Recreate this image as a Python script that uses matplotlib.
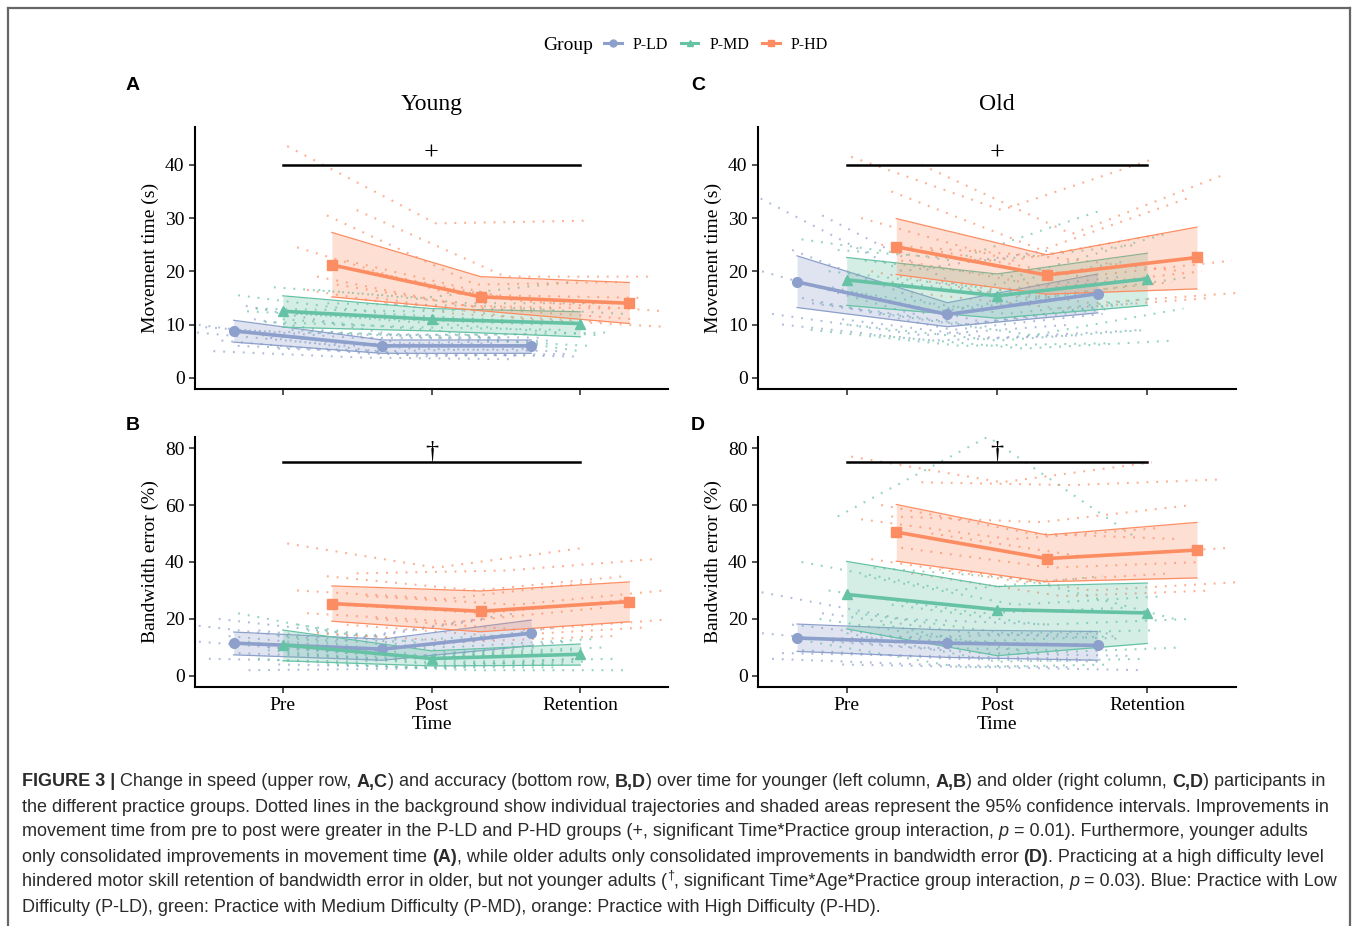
import numpy as np
import matplotlib.pyplot as plt
from matplotlib.lines import Line2D

W, H = 1358, 926

groups = ["P-LD", "P-MD", "P-HD"]
times = ["Pre", "Post", "Retention"]
colors = ["#8DA0CB", "#66C2A5", "#FC8D62"]
markers = ["o", "^", "s"]

# group means and 95% CI (rows: P-LD, P-MD, P-HD; cols: Pre, Post, Retention)
young_mt_mean = [[8.8, 6.0, 6.0], [12.5, 11.0, 10.2], [21.2, 15.2, 14.0]]
young_mt_lo = [[6.7, 4.6, 4.6], [9.5, 8.8, 7.7], [15.2, 12.6, 10.2]]
young_mt_hi = [[10.8, 7.1, 7.1], [15.4, 13.0, 12.4], [27.3, 19.0, 17.9]]

old_mt_mean = [[18.0, 11.9, 15.8], [18.4, 15.4, 18.6], [24.6, 19.3, 22.6]]
old_mt_lo = [[13.2, 9.6, 12.2], [13.6, 11.2, 13.6], [19.4, 15.7, 16.7]]
old_mt_hi = [[22.9, 14.1, 19.5], [22.6, 19.5, 23.4], [29.9, 23.1, 28.3]]

young_be_mean = [[11.5, 9.4, 15.0], [10.9, 6.1, 7.6], [25.4, 22.7, 26.1]]
young_be_lo = [[7.4, 5.5, 10.6], [5.3, 3.5, 3.8], [19.2, 15.5, 19.0]]
young_be_hi = [[15.4, 12.9, 19.6], [16.1, 8.8, 11.2], [31.6, 29.8, 33.0]]

old_be_mean = [[13.3, 11.5, 10.7], [28.6, 23.3, 22.1], [50.5, 41.2, 44.2]]
old_be_lo = [[8.6, 6.5, 5.5], [16.5, 7.1, 11.4], [40.3, 33.1, 34.4]]
old_be_hi = [[18.2, 16.1, 15.6], [40.2, 31.4, 32.6], [60.2, 49.5, 53.9]]

# individual trajectories [Pre, Post, Retention]
young_mt_ind_ld = [[10.2, 6.5, 6.0], [13.5, 8.0, 7.5], [9.5, 7.5, 7.5], [8.0, 5.5, 5.0],
                   [7.0, 4.5, 4.2], [5.5, 4.5, 4.0], [6.0, 5.0, 5.5], [8.5, 6.0, 6.5],
                   [11.0, 6.5, 7.0], [5.0, 3.8, 3.5], [7.5, 4.0, 4.5], [9.0, 8.0, 8.2]]
young_mt_ind_md = [[15.5, 12.0, 10.5], [12.0, 10.0, 8.0], [10.5, 9.5, 9.0], [14.0, 13.5, 12.0],
                   [9.0, 7.5, 6.0], [13.0, 12.5, 13.0], [16.5, 14.0, 14.0], [11.0, 9.0, 5.0],
                   [12.5, 11.0, 10.0], [8.5, 8.0, 8.5], [17.0, 15.0, 18.0]]
young_mt_ind_hd = [[43.5, 29.0, 29.5], [31.5, 19.0, 19.0], [30.5, 17.5, 18.0], [24.5, 16.0, 14.0],
                   [20.0, 14.5, 12.5], [17.5, 13.0, 11.0], [16.5, 12.0, 10.5], [15.0, 11.0, 9.5],
                   [22.0, 15.5, 15.0], [19.0, 13.5, 13.0]]

old_mt_ind_ld = [[34.5, 20.0, 24.0], [30.5, 16.0, 19.0], [24.0, 13.0, 16.0], [20.0, 12.0, 15.0],
                 [17.0, 10.5, 14.0], [15.0, 9.0, 12.0], [12.0, 8.0, 10.0], [11.0, 7.5, 9.0],
                 [14.0, 10.0, 13.0], [10.0, 7.0, 8.0]]
old_mt_ind_md = [[26.0, 22.0, 31.5], [22.0, 19.0, 27.0], [20.0, 17.0, 22.0], [18.0, 15.0, 19.0],
                 [16.0, 12.0, 15.0], [14.0, 10.0, 14.0], [12.0, 8.0, 13.0], [10.0, 7.0, 9.0],
                 [9.0, 6.0, 6.5], [8.0, 5.5, 7.0], [24.0, 22.0, 25.0]]
old_mt_ind_hd = [[41.5, 31.5, 41.0], [40.0, 27.0, 38.0], [35.0, 24.0, 34.0], [30.0, 22.0, 27.0],
                 [24.0, 19.0, 22.0], [22.0, 17.0, 20.0], [20.0, 15.0, 18.0], [18.0, 14.0, 16.0],
                 [16.0, 13.0, 15.0], [25.0, 23.0, 20.0]]

young_be_ind_ld = [[18.0, 12.0, 20.0], [16.0, 10.0, 17.0], [14.0, 9.0, 15.0], [12.0, 8.0, 13.0],
                   [10.0, 7.0, 12.0], [8.0, 6.0, 10.0], [6.0, 5.0, 8.0], [4.0, 3.0, 6.0],
                   [2.0, 2.5, 4.0], [20.0, 14.0, 22.0]]
young_be_ind_md = [[22.0, 12.0, 15.0], [16.0, 8.0, 10.0], [14.0, 7.0, 9.0], [12.0, 6.0, 8.0],
                   [10.0, 5.0, 6.0], [8.0, 4.0, 5.0], [6.0, 3.0, 3.0], [4.0, 2.0, 2.0],
                   [18.0, 10.0, 13.0], [9.0, 5.0, 4.0]]
young_be_ind_hd = [[46.5, 38.0, 45.0], [36.0, 37.0, 41.0], [35.0, 30.0, 35.0], [30.0, 27.0, 33.0],
                   [28.0, 25.0, 30.0], [25.0, 22.0, 27.0], [22.0, 19.0, 24.0], [20.0, 16.0, 20.0],
                   [18.0, 14.0, 17.0], [15.0, 12.0, 14.0]]

old_be_ind_ld = [[30.0, 20.0, 18.0], [22.0, 15.0, 13.0], [18.0, 12.0, 11.0], [15.0, 10.0, 9.0],
                 [12.0, 8.0, 7.0], [9.0, 6.0, 5.0], [6.0, 4.0, 3.0], [4.0, 3.0, 2.0],
                 [13.0, 14.0, 15.0], [8.0, 7.0, 6.0]]
old_be_ind_md = [[40.0, 30.0, 35.0], [35.0, 25.0, 28.0], [30.0, 22.0, 24.0], [25.0, 18.0, 20.0],
                 [22.0, 15.0, 16.0], [20.0, 12.0, 14.0], [18.0, 8.0, 10.0], [15.0, 5.0, 6.0],
                 [12.0, 3.0, 4.0], [38.0, 34.0, 20.0], [56.0, 84.0, 48.0]]
old_be_ind_hd = [[77.0, 68.0, 75.0], [68.0, 67.0, 69.0], [56.0, 54.0, 60.0], [55.0, 48.0, 52.0],
                 [50.0, 42.0, 45.0], [45.0, 38.0, 40.0], [41.0, 33.0, 36.0], [38.0, 30.0, 33.0],
                 [36.0, 28.0, 30.0], [60.0, 50.0, 48.0]]

caption = [
    [("FIGURE 3 |", "b"), (" Change in speed (upper row, ", ""), ("A,C", "b"),
     (") and accuracy (bottom row, ", ""), ("B,D", "b"),
     (") over time for younger (left column, ", ""), ("A,B", "b"),
     (") and older (right column, ", ""), ("C,D", "b"), (") participants in", "")],
    [("the different practice groups. Dotted lines in the background show individual trajectories "
      "and shaded areas represent the 95% confidence intervals. Improvements in", "")],
    [("movement time from pre to post were greater in the P-LD and P-HD groups (+, significant "
      "Time*Practice group interaction, ", ""), ("p", "i"), (" = 0.01). Furthermore, younger adults", "")],
    [("only consolidated improvements in movement time ", ""), ("(A)", "b"),
     (", while older adults only consolidated improvements in bandwidth error ", ""), ("(D)", "b"),
     (". Practicing at a high difficulty level", "")],
    [("hindered motor skill retention of bandwidth error in older, but not younger adults (", ""),
     ("\u2020", "sup"), (", significant Time*Age*Practice group interaction, ", ""), ("p", "i"),
     (" = 0.03). Blue: Practice with Low", "")],
    [("Difficulty (P-LD), green: Practice with Medium Difficulty (P-MD), orange: Practice with "
      "High Difficulty (P-HD).", "")],
]

plt.rcParams["font.family"] = "Liberation Serif"
fig = plt.figure(figsize=(W / 100, H / 100), dpi=100)


def box(l, t, r, b):
    return [l / W, 1 - b / H, (r - l) / W, (b - t) / H]


dodge = [-0.33, 0.0, 0.33]


def draw_panel(ax, mean, lo, hi, inds, ylim, yticks, bar_y, bar_sym):
    x = np.arange(3)
    for g in range(3):
        n = len(inds[g])
        jit = np.linspace(-0.3, 0.3, n)[(np.arange(n) * 7) % n]
        for subj, j in zip(inds[g], jit):
            ax.plot(x + dodge[g] + j, subj, color=colors[g], lw=1.5, ls=(0, (0.9, 3.8)),
                    alpha=0.7, zorder=1)
    for g in range(3):
        xs = x + dodge[g]
        ax.fill_between(xs, lo[g], hi[g], color=colors[g], alpha=0.28, lw=0, zorder=2)
        ax.plot(xs, lo[g], color=colors[g], lw=0.9, zorder=2)
        ax.plot(xs, hi[g], color=colors[g], lw=0.9, zorder=2)
        ax.plot(xs, mean[g], color=colors[g], lw=2.6, marker=markers[g], ms=7, zorder=3)
    ax.plot([0, 2], [bar_y, bar_y], color="black", lw=1.8, zorder=4)
    ax.text(1, bar_y, bar_sym, ha="center", va="bottom", fontsize=19, zorder=4)
    ax.set_xlim(-0.59, 2.59)
    ax.set_ylim(*ylim)
    ax.set_yticks(yticks)
    ax.set_xticks(x)
    for s in ["top", "right"]:
        ax.spines[s].set_visible(False)
    for s in ["left", "bottom"]:
        ax.spines[s].set_linewidth(1.5)
    ax.tick_params(direction="out", length=4, width=1.2, labelsize=14, color="#333333")


axA = fig.add_axes(box(195, 127, 668, 389))
axC = fig.add_axes(box(758, 127, 1236, 389))
axB = fig.add_axes(box(195, 437, 668, 687))
axD = fig.add_axes(box(758, 437, 1236, 687))

mt_lim, be_lim = (-2.1, 47.1), (-3.9, 83.9)
draw_panel(axA, young_mt_mean, young_mt_lo, young_mt_hi,
           [young_mt_ind_ld, young_mt_ind_md, young_mt_ind_hd], mt_lim, [0, 10, 20, 30, 40], 40, "+")
draw_panel(axC, old_mt_mean, old_mt_lo, old_mt_hi,
           [old_mt_ind_ld, old_mt_ind_md, old_mt_ind_hd], mt_lim, [0, 10, 20, 30, 40], 40, "+")
draw_panel(axB, young_be_mean, young_be_lo, young_be_hi,
           [young_be_ind_ld, young_be_ind_md, young_be_ind_hd], be_lim, [0, 20, 40, 60, 80], 75, "\u2020")
draw_panel(axD, old_be_mean, old_be_lo, old_be_hi,
           [old_be_ind_ld, old_be_ind_md, old_be_ind_hd], be_lim, [0, 20, 40, 60, 80], 75, "\u2020")

for ax, title in [(axA, "Young"), (axC, "Old")]:
    ax.set_title(title, fontsize=17, pad=12)
    ax.tick_params(labelbottom=False)
    ax.set_ylabel("Movement time (s)", fontsize=14, labelpad=4)
for ax in [axB, axD]:
    ax.set_xticklabels(times)
    ax.set_xlabel("Time", fontsize=14, labelpad=1)
    ax.set_ylabel("Bandwidth error (%)", fontsize=14, labelpad=4)

for lab, px, py in [("A", 133, 86), ("C", 698, 86), ("B", 133, 425), ("D", 698, 425)]:
    fig.text(px / W, 1 - py / H, lab, ha="center", va="center", fontsize=14,
             fontweight="bold", family="Liberation Sans")

# legend on top
fig.text(543 / W, 1 - 45 / H, "Group", ha="left", va="center", fontsize=14)
handles = [Line2D([], [], color=c, marker=m, lw=2.2, ms=5) for c, m in zip(colors, markers)]
fig.legend(handles, groups, loc="center left", bbox_to_anchor=(604 / W, 1 - 45 / H), ncol=3,
           frameon=False, fontsize=11.5, handlelength=1.1, handletextpad=0.7, columnspacing=0.8,
           borderaxespad=0, borderpad=0)

# frame
frame_kw = dict(transform=fig.transFigure, color="#666666", lw=1.6)
fig.add_artist(Line2D([8 / W, 1350 / W], [1 - 8 / H, 1 - 8 / H], **frame_kw))
fig.add_artist(Line2D([8 / W, 8 / W], [0, 1 - 8 / H], **frame_kw))
fig.add_artist(Line2D([1350 / W, 1350 / W], [0, 1 - 8 / H], **frame_kw))

# caption with mixed styles
renderer = fig.canvas.get_renderer()
cap_size = 13.0
cap_kw = {"": {}, "b": {"fontweight": "bold"}, "i": {"fontstyle": "italic"}, "sup": {}}


def text_width(s, size, **kw):
    t1 = fig.text(0, 0, "|" + s + "|", fontsize=size, family="Liberation Sans", **kw)
    t2 = fig.text(0, 0, "||", fontsize=size, family="Liberation Sans", **kw)
    w = t1.get_window_extent(renderer).width - t2.get_window_extent(renderer).width
    t1.remove()
    t2.remove()
    return w


for i, line in enumerate(caption):
    y = 782 + 25 * i
    x = 22
    for txt, st in line:
        size = cap_size * 0.7 if st == "sup" else cap_size
        dy = 6 if st == "sup" else 0
        fig.text(x / W, 1 - (y - dy) / H, txt, ha="left", va="center", fontsize=size,
                 family="Liberation Sans", color="#2b2b2b", **cap_kw[st])
        x += text_width(txt, size, **cap_kw[st])

fig.savefig("out.png", dpi=100)
